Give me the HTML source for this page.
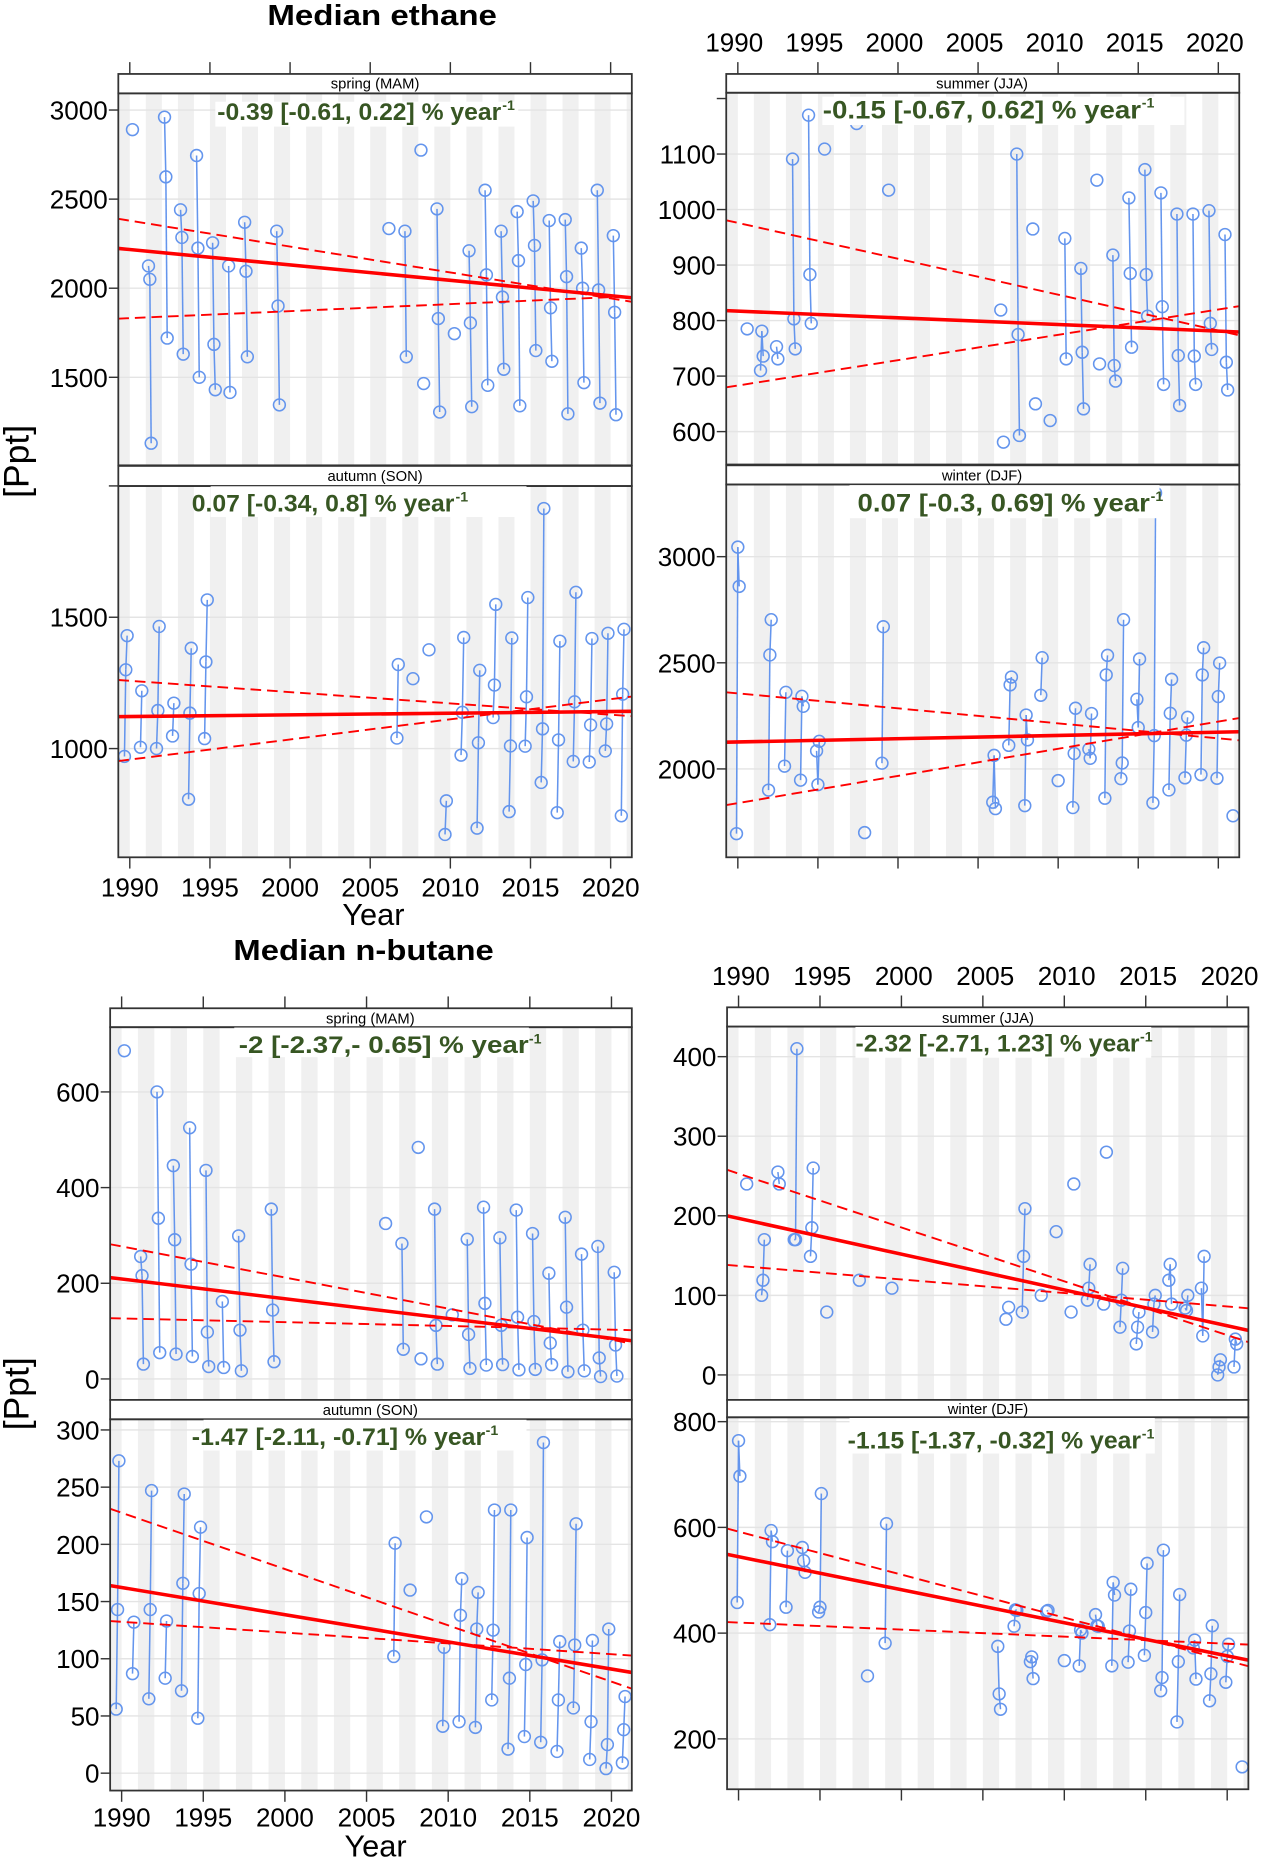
<!DOCTYPE html>
<html><head><meta charset="utf-8"><title>Median ethane and n-butane seasonal trends</title>
<style>
html,body{margin:0;padding:0;background:#fff;}
svg{display:block;}
text{font-family:"Liberation Sans",sans-serif;}
.ann{font-family:"Liberation Sans Narrow","Liberation Sans",sans-serif;font-weight:bold;fill:#375623;}
</style></head>
<body>
<svg id="fig" xmlns="http://www.w3.org/2000/svg" width="1266" height="1858" viewBox="0 0 1070 1570.4" preserveAspectRatio="none">
<rect x="0" y="0" width="1070" height="1570.4" fill="#fff"/>
<g id="marks"></g>
<g id="overlay">
  <rect x="182" y="86" width="256" height="21" fill="#fff"/>
  <rect x="695" y="81.7" width="306" height="24" fill="#fff"/>
  <rect x="178" y="411" width="267" height="26" fill="#fff"/>
  <rect x="718" y="410" width="262" height="28" fill="#fff"/>
  <rect x="198" y="868.5" width="249" height="25" fill="#fff"/>
  <rect x="723" y="868" width="250" height="26" fill="#fff"/>
  <rect x="172" y="1200" width="273" height="26" fill="#fff"/>
  <rect x="718" y="1198.5" width="258" height="30" fill="#fff"/>

  <text class="ann" x="183.6" y="101.4" font-size="20" textLength="240" lengthAdjust="spacingAndGlyphs">-0.39 [-0.61, 0.22] % year</text>
  <text class="ann" x="424.5" y="93" font-size="12">-1</text>
  <text class="ann" x="695.4" y="100" font-size="21" textLength="269" lengthAdjust="spacingAndGlyphs">-0.15 [-0.67, 0.62] % year</text>
  <text class="ann" x="965" y="91" font-size="12">-1</text>
  <text class="ann" x="162.1" y="432.4" font-size="20" textLength="222" lengthAdjust="spacingAndGlyphs">0.07 [-0.34, 0.8] % year</text>
  <text class="ann" x="385" y="424" font-size="12">-1</text>
  <text class="ann" x="724.8" y="432.4" font-size="21" textLength="247" lengthAdjust="spacingAndGlyphs">0.07 [-0.3, 0.69] % year</text>
  <text class="ann" x="972.5" y="423.5" font-size="12">-1</text>
  <text class="ann" x="201.8" y="890.2" font-size="20" textLength="245" lengthAdjust="spacingAndGlyphs">-2 [-2.37,- 0.65] % year</text>
  <text class="ann" x="447" y="882" font-size="12">-1</text>
  <text class="ann" x="723.1" y="888.8" font-size="20" textLength="240" lengthAdjust="spacingAndGlyphs">-2.32 [-2.71, 1.23] % year</text>
  <text class="ann" x="963.5" y="880.5" font-size="12">-1</text>
  <text class="ann" x="162.1" y="1221.3" font-size="20" textLength="248" lengthAdjust="spacingAndGlyphs">-1.47 [-2.11, -0.71] % year</text>
  <text class="ann" x="410.5" y="1213" font-size="12">-1</text>
  <text class="ann" x="716.4" y="1224.1" font-size="20" textLength="248" lengthAdjust="spacingAndGlyphs">-1.15 [-1.37, -0.32] % year</text>
  <text class="ann" x="965" y="1216" font-size="12">-1</text>

  <text x="226" y="21" font-size="24" font-weight="bold" textLength="194" lengthAdjust="spacingAndGlyphs">Median ethane</text>
  <text x="197.3" y="811.4" font-size="24" font-weight="bold" textLength="220" lengthAdjust="spacingAndGlyphs">Median n-butane</text>
  <text transform="translate(24,390) rotate(-90)" text-anchor="middle" font-size="30">[Ppt]</text>
  <text transform="translate(24,1178) rotate(-90)" text-anchor="middle" font-size="30">[Ppt]</text>
  <text x="315.6" y="781.8" text-anchor="middle" font-size="26">Year</text>
  <text x="317.4" y="1569" text-anchor="middle" font-size="26">Year</text>

  <text x="317" y="75" text-anchor="middle" font-size="12.5">spring (MAM)</text>
  <text x="830" y="75" text-anchor="middle" font-size="12.5">summer (JJA)</text>
  <text x="317" y="406.5" text-anchor="middle" font-size="12.5">autumn (SON)</text>
  <text x="830" y="406" text-anchor="middle" font-size="12.5">winter (DJF)</text>
  <text x="313" y="865" text-anchor="middle" font-size="12.5">spring (MAM)</text>
  <text x="835" y="864.5" text-anchor="middle" font-size="12.5">summer (JJA)</text>
  <text x="313" y="1196" text-anchor="middle" font-size="12.5">autumn (SON)</text>
  <text x="835" y="1195" text-anchor="middle" font-size="12.5">winter (DJF)</text>
</g>
</svg>
<script>
// ---------- data ----------
const xTickYears = [1990, 1995, 2000, 2005, 2010, 2015, 2020];
const xTickLabels = ["1990", "1995", "2000", "2005", "2010", "2015", "2020"];

// Ethane spring (MAM): monthly medians [Mar, Apr, May]
const ethSpringYears = [1990,1991,1992,1993,1994,1995,1996,1997,1999,2006,2007,2008,2009,2010,2011,2012,2013,2014,2015,2016,2017,2018,2019,2020];
const ethSpringValues = [[2890,null,null],[2125,2050,1130],[2960,2625,1720],[2440,2285,1630],[2745,2225,1500],[2255,1685,1430],[2125,1415,null],[2370,2095,1615],[2320,1900,1345],[2335,null,null],[2320,1615,null],[2775,null,1465],[2445,1830,1305],[null,1745,null],[2210,1805,1335],[2550,2075,1455],[2320,1950,1545],[2430,2155,1340],[2490,2240,1650],[2380,1890,1590],[2385,2065,1295],[2225,2000,1470],[2550,1990,1355],[2295,1865,1290]];
const ethSpringTrend = [2217, 1958];
const ethSpringUpper = [2379, 1943];
const ethSpringLower = [1832, 1950];
const ethSpringTicks = [1500, 2000, 2500, 3000];
const ethSpringTickLabels = ["1500", "2000", "2500", "3000"];

// Ethane summer (JJA)
const ethSummerYears = [1990,1991,1992,1993,1994,1995,1997,1999,2006,2007,2008,2009,2010,2011,2012,2013,2014,2015,2016,2017,2018,2019,2020];
const ethSummerValues = [[null,null,785],[710,781,736],[753,731,null],[1091,803,749],[1170,883,795],[1109,null,null],[1155,null,null],[1035,null,null],[819,null,581],[1100,775,593],[965,null,650],[null,620,null],[948,731,null],[894,743,641],[1053,null,722],[918,719,691],[1021,885,752],[1072,883,808],[1030,825,685],[992,737,647],[992,736,685],[998,795,748],[955,725,675]];
const ethSummerTrend = [817, 781];
const ethSummerUpper = [976, 782];
const ethSummerLower = [683, 820];
const ethSummerTicks = [600, 700, 800, 900, 1000, 1100];
const ethSummerTickLabels = ["600", "700", "800", "900", "1000", "1100"];

// Ethane autumn (SON)
const ethAutumnYears = [1989,1990,1991,1992,1993,1994,2006,2007,2008,2009,2010,2011,2012,2013,2014,2015,2016,2017,2018,2019,2020];
const ethAutumnValues = [[970,1300,1430],[1005,1220,null],[1000,1145,1465],[1048,1173,null],[807,1135,1382],[1038,1330,1566],[1040,1320,null],[1266,null,null],[1376,null,null],[673,801,null],[975,1138,1423],[697,1022,1298],[1118,1242,1549],[760,1010,1421],[1009,1197,1575],[871,1075,1914],[756,1033,1409],[951,1178,1595],[949,1090,1419],[991,1094,1439],[744,1207,1454]];
const ethAutumnTrend = [1122, 1141];
const ethAutumnUpper = [1258, 1129];
const ethAutumnLower = [958, 1188];
const ethAutumnTicks = [1000, 1500];
const ethAutumnTickLabels = ["1000", "1500"];

// Ethane winter (DJF): [Dec(prev), Jan, Feb]
const ethWinterYears = [1990,1992,1993,1994,1995,1998,1999,2006,2007,2008,2009,2010,2011,2012,2013,2014,2015,2016,2017,2018,2019,2020,2021];
const ethWinterValues = [[1695,3045,2860],[1900,2537,2703],[2013,2361,null],[1947,2342,2295],[2085,1926,2130],[1700,null,null],[null,2027,2670],[1843,2064,1813],[2111,2396,2433],[1827,2254,2137],[2347,2524,null],[null,1945,null],[1818,2073,2286],[2093,2050,2261],[1862,2443,2535],[1954,2028,2703],[2328,2195,2518],[1840,2157,3300],[1901,2262,2422],[1958,2159,2243],[1973,2443,2571],[1956,2341,2499],[1779,null,null]];
const ethWinterTrend = [2127, 2173];
const ethWinterUpper = [2356, 2144];
const ethWinterLower = [1839, 2223];
const ethWinterTicks = [2000, 2500, 3000];
const ethWinterTickLabels = ["2000", "2500", "3000"];

// n-Butane spring (MAM)
const butSpringYears = [1990,1991,1992,1993,1994,1995,1996,1997,1999,2006,2007,2008,2009,2010,2011,2012,2013,2014,2015,2016,2017,2018,2019,2020];
const butSpringValues = [[686,null,null],[256,216,31],[600,336,55],[446,291,52],[525,240,47],[436,98,26],[162,24,null],[299,102,17],[355,144,36],[325,null,null],[283,62,null],[484,null,42],[355,112,31],[null,134,null],[292,93,22],[359,158,29],[295,112,30],[353,129,19],[304,120,20],[221,75,30],[338,150,15],[261,102,17],[277,44,5],[223,71,6]];
const butSpringTrend = [209, 85];
const butSpringUpper = [277, 82];
const butSpringLower = [126.5, 103];
const butSpringTicks = [0, 200, 400, 600];
const butSpringTickLabels = ["0", "200", "400", "600"];

// n-Butane summer (JJA)
const butSummerYears = [1990,1991,1992,1993,1994,1995,1997,1999,2006,2007,2008,2009,2010,2011,2012,2013,2014,2015,2016,2017,2018,2019,2020];
const butSummerValues = [[null,240,null],[100,119,170],[255,240,null],[170,170,410],[149,185,260],[79,null,null],[119,null,null],[109,null,null],[70,null,85],[79,149,209],[null,null,100],[null,180,null],[79,null,240],[94,109,139],[89,null,280],[60,94,134],[39,60,79],[54,89,100],[119,139,89],[84,81,100],[109,49,149],[0,10,19],[10,45,39]];
const butSummerTrend = [196.8, 61.8];
const butSummerUpper = [253, 50];
const butSummerLower = [137, 86];
const butSummerTicks = [0, 100, 200, 300, 400];
const butSummerTickLabels = ["0", "100", "200", "300", "400"];

// n-Butane autumn (SON)
const butAutumnYears = [1989,1990,1991,1992,1993,1994,2006,2007,2008,2009,2010,2011,2012,2013,2014,2015,2016,2017,2018,2019,2020];
const butAutumnValues = [[56,143,273],[87,132,null],[65,143,247],[83,133,null],[72,166,244],[48,157,215],[102,201,null],[160,null,null],[224,null,null],[41,110,null],[45,138,170],[40,126,158],[64,125,230],[21,83,230],[32,95,206],[27,99,289],[19,64,115],[57,112,218],[12,45,116],[4,25,126],[9,38,67]];
const butAutumnTrend = [162.3, 91];
const butAutumnUpper = [227.6, 80];
const butAutumnLower = [132.3, 104];
const butAutumnTicks = [0, 50, 100, 150, 200, 250, 300];
const butAutumnTickLabels = ["0", "50", "100", "150", "200", "250", "300"];

// n-Butane winter (DJF)
const butWinterYears = [1990,1992,1993,1994,1995,1998,1999,2006,2007,2008,2009,2010,2011,2012,2013,2014,2015,2016,2017,2018,2019,2020,2021];
const butWinterValues = [[458,764,697],[416,594,573],[449,556,null],[562,537,515],[440,449,664],[319,null,null],[null,381,607],[375,285,256],[413,444,443],[346,355,314],[441,443,null],[null,348,null],[338,406,400],[435,414,413],[338,496,472],[345,404,483],[358,439,532],[291,316,557],[232,346,473],[372,387,313],[272,323,414],[307,356,379],[147,null,null]];
const butWinterTrend = [544.6, 357];
const butWinterUpper = [592, 348];
const butWinterLower = [420, 380];
const butWinterTicks = [200, 400, 600, 800];
const butWinterTickLabels = ["200", "400", "600", "800"];

// ---------- layout ----------
const monthOffsets = {spring:[2,3,4], summer:[5,6,7], autumn:[8,9,10], winter:[-1,0,1]};
const panels = [
 {key:"ethane-spring", season:"spring", years:ethSpringYears, values:ethSpringValues, trend:ethSpringTrend, upper:ethSpringUpper, lower:ethSpringLower, ticks:ethSpringTicks, tickLabels:ethSpringTickLabels, extraTicks:[],
  x0:100, x1:534, xa:109.7, xb:516.1, stripTop:62.5, plotTop:78.9, plotBottom:393.3, yAv:3000, yAp:93.0, yBv:1500, yBp:318.9, topTicks:true, topLabels:false, bottomTicks:false, bottomLabels:false},
 {key:"ethane-summer", season:"summer", years:ethSummerYears, values:ethSummerValues, trend:ethSummerTrend, upper:ethSummerUpper, lower:ethSummerLower, ticks:ethSummerTicks, tickLabels:ethSummerTickLabels, extraTicks:[1200],
  x0:613.8, x1:1047.4, xa:623.6, xb:1029.7, stripTop:62.5, plotTop:78.4, plotBottom:392.6, yAv:1100, yAp:130.2, yBv:600, yBp:364.8, topTicks:true, topLabels:true, labelBase:43.7, labelShift:-3, bottomTicks:false, bottomLabels:false},
 {key:"ethane-autumn", season:"autumn", years:ethAutumnYears, values:ethAutumnValues, trend:ethAutumnTrend, upper:ethAutumnUpper, lower:ethAutumnLower, ticks:ethAutumnTicks, tickLabels:ethAutumnTickLabels, extraTicks:[2000],
  x0:100, x1:534, xa:109.7, xb:516.1, stripTop:393.8, plotTop:410.8, plotBottom:724.6, yAv:1500, yAp:521.7, yBv:1000, yBp:632.7, topTicks:false, topLabels:false, bottomTicks:true, bottomLabels:true, labelBase:757.8},
 {key:"ethane-winter", season:"winter", years:ethWinterYears, values:ethWinterValues, trend:ethWinterTrend, upper:ethWinterUpper, lower:ethWinterLower, ticks:ethWinterTicks, tickLabels:ethWinterTickLabels, extraTicks:[],
  x0:613.8, x1:1047.4, xa:623.6, xb:1029.7, stripTop:393.3, plotTop:409.5, plotBottom:724.6, yAv:3000, yAp:470.5, yBv:2000, yBp:649.9, topTicks:false, topLabels:false, bottomTicks:true, bottomLabels:false},
 {key:"butane-spring", season:"spring", years:butSpringYears, values:butSpringValues, trend:butSpringTrend, upper:butSpringUpper, lower:butSpringLower, ticks:butSpringTicks, tickLabels:butSpringTickLabels, extraTicks:[],
  x0:93.1, x1:534, xa:102.8, xb:516.8, stripTop:852.2, plotTop:868.2, plotBottom:1183.2, yAv:600, yAp:922.9, yBv:0, yBp:1165.5, topTicks:true, topLabels:false, bottomTicks:false, bottomLabels:false},
 {key:"butane-summer", season:"summer", years:butSummerYears, values:butSummerValues, trend:butSummerTrend, upper:butSummerUpper, lower:butSummerLower, ticks:butSummerTicks, tickLabels:butSummerTickLabels, extraTicks:[],
  x0:614.5, x1:1055.1, xa:624.2, xb:1037.2, stripTop:851.4, plotTop:867.7, plotBottom:1183.2, yAv:400, yAp:893.1, yBv:0, yBp:1162.1, topTicks:true, topLabels:true, labelBase:832.6, labelShift:2, bottomTicks:false, bottomLabels:false},
 {key:"butane-autumn", season:"autumn", years:butAutumnYears, values:butAutumnValues, trend:butAutumnTrend, upper:butAutumnUpper, lower:butAutumnLower, ticks:butAutumnTicks, tickLabels:butAutumnTickLabels, extraTicks:[],
  x0:93.1, x1:534, xa:102.8, xb:516.8, stripTop:1183.2, plotTop:1199.6, plotBottom:1513.4, yAv:300, yAp:1208.6, yBv:0, yBp:1498.7, topTicks:false, topLabels:false, bottomTicks:true, bottomLabels:true, labelBase:1543.8},
 {key:"butane-winter", season:"winter", years:butWinterYears, values:butWinterValues, trend:butWinterTrend, upper:butWinterUpper, lower:butWinterLower, ticks:butWinterTicks, tickLabels:butWinterTickLabels, extraTicks:[],
  x0:614.5, x1:1055.1, xa:624.2, xb:1037.2, stripTop:1183.2, plotTop:1197.9, plotBottom:1512.3, yAv:800, yAp:1201.6, yBv:200, yBp:1469.7, topTicks:false, topLabels:false, bottomTicks:true, bottomLabels:false}
];

// ---------- drawing ----------
const NS = "http://www.w3.org/2000/svg";
const root = document.getElementById("marks");
function mk(tag, attrs, parent) {
  const el = document.createElementNS(NS, tag);
  for (const k in attrs) el.setAttribute(k, attrs[k]);
  (parent || root).appendChild(el);
  return el;
}
const defs = mk("defs", {});

panels.forEach(function (p, pi) {
  const xScale = function (yr) { return p.xa + (yr - 1990) * (p.xb - p.xa) / 30; };
  const yScale = function (v) { return p.yAp + (v - p.yAv) * (p.yBp - p.yAp) / (p.yBv - p.yAv); };
  const pxPerYr = (p.xb - p.xa) / 30;
  const g = mk("g", {});
  
  

  const clip = mk("clipPath", {id: "clip" + pi}, defs);
  mk("rect", {x: p.x0, y: p.plotTop, width: p.x1 - p.x0, height: p.plotBottom - p.plotTop}, clip);

  // year bands
  const bands = mk("g", {"clip-path": "url(#clip" + pi + ")"}, g);
  
  
  for (let yr = 1987; yr <= 2023; yr += 2) {
    const b = mk("rect", {x: xScale(yr), y: p.plotTop, width: pxPerYr, height: p.plotBottom - p.plotTop, fill: "#f0f0f0"}, bands);
    
    
  }
  // gridlines + y ticks
  p.ticks.forEach(function (t, i) {
    const y = yScale(t);
    const gl = mk("line", {x1: p.x0, x2: p.x1, y1: y, y2: y, stroke: "#e4e4e4", "stroke-width": 1.2}, g);
    
    
    const tk = mk("line", {x1: p.x0 - 8, x2: p.x0, y1: y, y2: y, stroke: "#333", "stroke-width": 1.2}, g);
    
    
    const tl = mk("text", {x: p.x0 - 9, y: y + 8, "text-anchor": "end", "font-size": 22, fill: "#000"}, g);
    
    
    tl.textContent = p.tickLabels[i];
  });
  p.extraTicks.forEach(function (t) {
    const y = yScale(t);
    const tk = mk("line", {x1: p.x0 - 8, x2: p.x0, y1: y, y2: y, stroke: "#333", "stroke-width": 1.2}, g);
    
    
  });

  // series
  const series = mk("g", {"clip-path": "url(#clip" + pi + ")"}, g);
  
  
  const offs = monthOffsets[p.season];
  p.years.forEach(function (yr, yi) {
    const vals = p.values[yi];
    const pts = vals.map(function (v, m) { return v == null ? null : [xScale(yr + offs[m] / 12), yScale(v)]; });
    for (let m = 0; m < 2; m++) {
      if (pts[m] && pts[m + 1]) {
        const ln = mk("line", {x1: pts[m][0], y1: pts[m][1], x2: pts[m + 1][0], y2: pts[m + 1][1], stroke: "#6495ed", "stroke-width": 1.3}, series);
        
        
      }
    }
    pts.forEach(function (pt) {
      if (!pt) return;
      const c = mk("circle", {cx: pt[0], cy: pt[1], r: 5, fill: "none", stroke: "#6495ed", "stroke-width": 1.3}, series);
      
      
    });
  });

  // trend lines
  const yrL = 1990 + (p.x0 - p.xa) / pxPerYr, yrR = 1990 + (p.x1 - p.xa) / pxPerYr;
  function trendLine(tv, name, width, dash) {
    const vL = tv[0] + (tv[1] - tv[0]) * (yrL - 1990) / 30;
    const vR = tv[0] + (tv[1] - tv[0]) * (yrR - 1990) / 30;
    const attrs = {x1: p.x0, y1: yScale(vL), x2: p.x1, y2: yScale(vR), stroke: "#ff0000", "stroke-width": width};
    if (dash) attrs["stroke-dasharray"] = dash;
    const ln = mk("line", attrs, series);
    
    
  }
  trendLine(p.upper, 'trend-upper-ci', 1.6, "9,5");
  trendLine(p.lower, 'trend-lower-ci', 1.6, "9,5");
  trendLine(p.trend, 'trend-line', 3, null);

  // strip + frame
  const strip = mk("rect", {x: p.x0, y: p.stripTop, width: p.x1 - p.x0, height: p.plotTop - p.stripTop, fill: "#fff", stroke: "#333", "stroke-width": 1.5}, g);
  
  
  const frame = mk("rect", {x: p.x0, y: p.plotTop, width: p.x1 - p.x0, height: p.plotBottom - p.plotTop, fill: "none", stroke: "#333", "stroke-width": 1.5}, g);
  
  

  // x ticks
  xTickYears.forEach(function (yr, i) {
    const x = xScale(yr);
    if (p.topTicks) {
      const t = mk("line", {x1: x, x2: x, y1: p.stripTop - 10, y2: p.stripTop, stroke: "#333", "stroke-width": 1.2}, g);
      
      
    }
    if (p.topLabels) {
      const tl = mk("text", {x: x + p.labelShift, y: p.labelBase, "text-anchor": "middle", "font-size": 22}, g);
      
      
      tl.textContent = xTickLabels[i];
    }
    if (p.bottomTicks) {
      const t = mk("line", {x1: x, x2: x, y1: p.plotBottom, y2: p.plotBottom + 9.5, stroke: "#333", "stroke-width": 1.2}, g);
      
      
    }
    if (p.bottomLabels) {
      const tl = mk("text", {x: x, y: p.labelBase, "text-anchor": "middle", "font-size": 22}, g);
      
      
      tl.textContent = xTickLabels[i];
    }
  });
});
</script>
</body></html>
